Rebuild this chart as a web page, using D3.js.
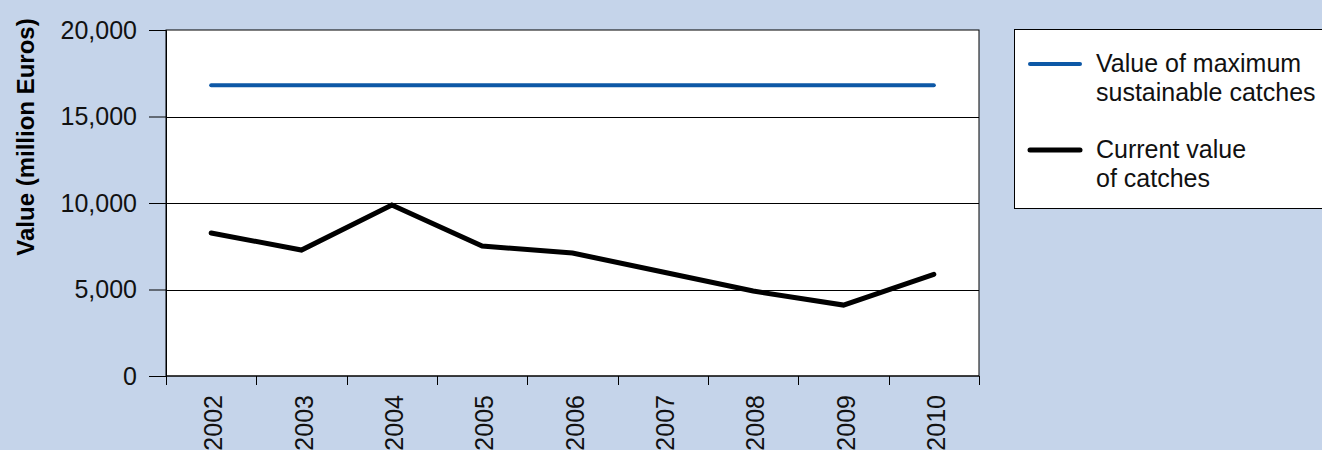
<!DOCTYPE html>
<html>
<head>
<meta charset="utf-8">
<script src="https://cdn.jsdelivr.net/npm/d3@7"></script>
<style>
  body { margin: 0; background: #c5d4ea; }
  svg { display: block; font-family: "Liberation Sans", Arial, sans-serif; }
</style>
</head>
<body>
<div id="chart"></div>
<script>
// data
const years = ["2002", "2003", "2004", "2005", "2006", "2007", "2008", "2009", "2010"];
const maxSustainable = [16800, 16800, 16800, 16800, 16800, 16800, 16800, 16800, 16800];
const currentValue = [8270, 7280, 9880, 7510, 7110, 6010, 4910, 4100, 5880];
const yTicks = [0, 5000, 10000, 15000, 20000];
const seriesNames = [["Value of maximum", "sustainable catches"], ["Current value", "of catches"]];
const seriesColors = ["#0d58a6", "#000000"];

const W = 1322, H = 450;
const margin = { top: 30, right: 343, bottom: 74, left: 166 };
const width = W - margin.left - margin.right;
const height = H - margin.top - margin.bottom;

const svg = d3.select("#chart").append("svg")
    .attr("width", W)
    .attr("height", H);

svg.append("rect").attr("width", W).attr("height", H).attr("fill", "#c5d4ea");

const g = svg.append("g")
    .attr("transform", `translate(${margin.left},${margin.top})`);

const x = d3.scaleBand().domain(years).range([0, width]);
const y = d3.scaleLinear().domain([0, 20000]).range([height, 0]);

// plot background
g.append("rect")
    .attr("width", width).attr("height", height)
    .attr("fill", "#fff").attr("stroke", "#000").attr("stroke-width", 1);

// gridlines
g.selectAll(".grid")
    .data(yTicks.filter(d => d > 0 && d < 20000))
    .enter().append("line")
    .attr("x1", 0).attr("x2", width)
    .attr("y1", d => Math.round(y(d)) + 0.5).attr("y2", d => Math.round(y(d)) + 0.5)
    .attr("stroke", "#000").attr("stroke-width", 1);

// y axis
const yAxis = g.append("g")
    .call(d3.axisLeft(y).tickValues(yTicks).tickSize(17).tickPadding(12).tickFormat(d3.format(",")));
yAxis.select(".domain").attr("stroke", "#000");
yAxis.selectAll("text").style("font-size", "25px").attr("fill", "#111");

// x axis - ticks between categories
const xAxis = g.append("g").attr("transform", `translate(0,${height})`);
xAxis.append("line").attr("x1", 0).attr("x2", width).attr("stroke", "#000");
const bounds = years.map(d => x(d)).concat([width]);
xAxis.selectAll(".tk").data(bounds).enter().append("line")
    .attr("x1", d => Math.round(d) + 0.5).attr("x2", d => Math.round(d) + 0.5)
    .attr("y1", 0).attr("y2", 9).attr("stroke", "#000");
xAxis.selectAll(".lbl").data(years).enter().append("text")
    .attr("transform", d => `translate(${x(d) + x.bandwidth() / 2 + 11},19) rotate(-90)`)
    .attr("text-anchor", "end")
    .style("font-size", "25px")
    .attr("fill", "#111")
    .text(d => d);

// axis title
svg.append("text")
    .attr("transform", `translate(34,137) rotate(-90)`)
    .attr("text-anchor", "middle")
    .style("font-size", "24px").style("font-weight", "bold")
    .text("Value (million Euros)");

// lines
const line = d3.line()
    .x((d, i) => x(years[i]) + x.bandwidth() / 2)
    .y(d => y(d));

[maxSustainable, currentValue].forEach((s, i) => {
    g.append("path")
        .attr("d", line(s))
        .attr("fill", "none")
        .attr("stroke", seriesColors[i])
        .attr("stroke-width", i === 0 ? 4 : 5)
        .attr("stroke-linecap", "round")
        .attr("stroke-linejoin", "miter");
});

// legend
const lg = svg.append("g").attr("transform", "translate(1014,29)");
lg.append("rect")
    .attr("x", 0.5).attr("y", 0.5).attr("width", 330).attr("height", 179)
    .attr("fill", "#fff").attr("stroke", "#000");
const item = lg.selectAll(".item").data(seriesNames).enter().append("g")
    .attr("transform", (d, i) => `translate(0,${35 + i * 86})`);
item.append("line")
    .attr("x1", 16).attr("x2", 66)
    .attr("stroke", (d, i) => seriesColors[i])
    .attr("stroke-width", (d, i) => i === 0 ? 4 : 5)
    .attr("stroke-linecap", "round");
item.append("text")
    .attr("x", 82).attr("y", 8)
    .style("font-size", "25px").attr("fill", "#111")
    .selectAll("tspan").data(d => d).enter().append("tspan")
    .attr("x", 82).attr("dy", (d, i) => i === 0 ? 0 : 29)
    .text(d => d);
</script>
</body>
</html>
